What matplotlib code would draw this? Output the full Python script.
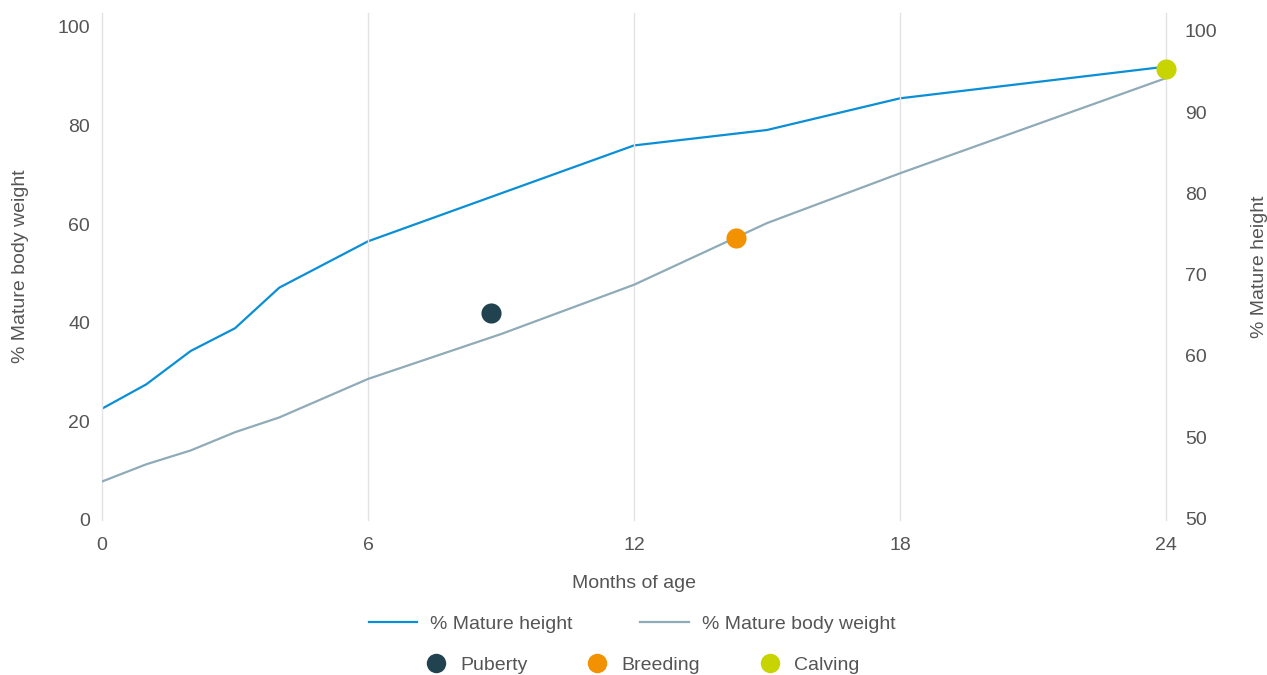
import matplotlib
matplotlib.use("Agg")
import matplotlib.pyplot as plt
from matplotlib.lines import Line2D

# ---- data ----
months = [0, 1, 2, 3, 4, 6, 9, 12, 15, 18, 24]
height_months = [0, 1, 2, 3, 4, 6, 12, 15, 18, 24]
pct_height = [53.5, 56.5, 60.6, 63.4, 68.4, 74.1, 85.9, 87.8, 91.7, 95.6]
pct_weight = [7.8, 11.3, 14.1, 17.8, 20.8, 28.6, 37.7, 47.7, 60.2, 70.3, 89.6]

events = ["Puberty", "Breeding", "Calving"]
event_months = [8.77, 14.3, 24]
event_weight = [41.9, 57.1, 91.4]
event_colors = ["#21424f", "#f39200", "#c8d400"]

x_ticks = [0, 6, 12, 18, 24]
left_ticks = [0, 20, 40, 60, 80, 100]
right_ticks = [100, 90, 80, 70, 60, 50, 40]
right_tick_labels = ["100", "90", "80", "70", "60", "50", "50"]

blue = "#0a8fd6"
greyblue = "#8fabb8"
text_col = "#555555"
fs = 14

plt.rcParams['font.family'] = ['Liberation Sans', 'DejaVu Sans']

fig = plt.figure(figsize=(12.67, 6.75), dpi=100)
ax = fig.add_axes([102/1267, 1-520/675, (1166-102)/1267, (520-13)/675])
ax2 = ax.twinx()

ax.set_xlim(0, 24)
ax.set_ylim(0, 102.8)
ax2.set_ylim(39.8, 102.2)

for a in (ax, ax2):
    for s in a.spines.values():
        s.set_visible(False)

ax.set_xticks(x_ticks)
for xv in x_ticks:
    ax.axvline(xv, color="#e3e3e3", lw=1, zorder=0, clip_on=False)

ax.set_yticks(left_ticks)
ax2.set_yticks(right_ticks)
ax2.set_yticklabels(right_tick_labels)

ax.tick_params(axis='x', length=0, pad=12, labelsize=fs, labelcolor=text_col)
ax.tick_params(axis='y', length=0, pad=8.5, labelsize=fs, labelcolor=text_col)
ax2.tick_params(axis='y', length=0, pad=13.5, labelsize=fs, labelcolor=text_col)

ax.plot(months, pct_weight, color=greyblue, lw=1.6, zorder=2, solid_joinstyle='round')
ax2.plot(height_months, pct_height, color=blue, lw=1.6, zorder=2, solid_joinstyle='round')

# event dots drawn on top
ax2.set_zorder(1)
ax.set_zorder(2)
ax.patch.set_visible(False)
for m, w, c in zip(event_months, event_weight, event_colors):
    ax.plot([m], [w], 'o', color=c, markersize=14.5, markeredgewidth=0, clip_on=False, zorder=5)

ax.set_xlabel("Months of age", fontsize=fs, color=text_col, labelpad=15.5)
ax.set_ylabel("% Mature body weight", fontsize=fs, color=text_col)
ax2.set_ylabel("% Mature height", fontsize=fs, color=text_col)
ax.yaxis.set_label_coords(-(102-29)/1064, 0.5)
ax2.yaxis.set_label_coords((1251-102)/1064, 0.5)

# legends
h1 = [Line2D([0], [0], color=blue, lw=1.6), Line2D([0], [0], color=greyblue, lw=1.6)]
leg1 = fig.legend(h1, ["% Mature height", "% Mature body weight"], ncol=2, loc='center',
                  bbox_to_anchor=(632/1267, 1-624/675), frameon=False, fontsize=fs,
                  handlelength=2.5, handletextpad=0.67, columnspacing=3.45, labelcolor=text_col)
h2 = [Line2D([0], [0], marker='o', color='none', markerfacecolor=c, markeredgewidth=0, markersize=14)
      for c in event_colors]
leg2 = fig.legend(h2, events, ncol=3, loc='center',
                  bbox_to_anchor=(643/1267, 1-665/675), frameon=False, fontsize=fs,
                  handlelength=1.0, handletextpad=0.74, columnspacing=3.1, labelcolor=text_col)

fig.savefig("out.png", dpi=100)
